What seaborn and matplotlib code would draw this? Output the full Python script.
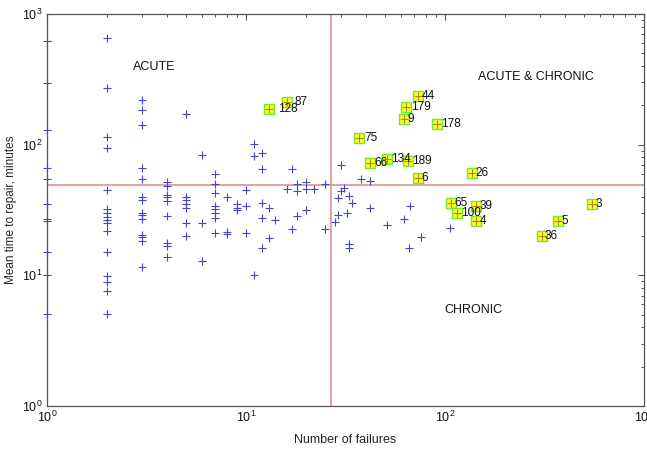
import matplotlib
matplotlib.use("Agg")
import matplotlib.pyplot as plt
import pandas as pd
import seaborn as sns

# Equipment items: number of failures vs mean time to repair (minutes)
failures = (
    [1] * 11 + [2] * 16 + [3] * 14 + [4] * 9 + [5] * 7 + [6] * 3 + [7] * 8
    + [8] * 3 + [9] * 3 + [10] * 3 + [11] * 3 + [12] * 5 + [13] * 2
    + [14, 16, 17, 17, 18, 18, 18, 20, 20, 20, 22, 25, 25,
       28, 29, 29, 30, 30, 31, 32, 33, 33, 33, 34, 38, 42, 42,
       51, 62, 66, 67, 76, 106]
)
mttr = (
    [619, 299, 130, 66, 55, 35, 27, 26, 15, 10, 5.1]
    + [657, 273, 114, 95, 45, 32, 30, 28, 26.5, 25, 22, 15, 9.8, 8.9, 7.6, 5.1]
    + [221, 185, 142, 66, 55, 40, 38, 30, 29, 27, 20.4, 19.6, 18.2, 11.6]
    + [52, 48, 41, 40, 37, 28.6, 17.6, 16.9, 13.7]
    + [172, 40, 37.4, 35, 33, 25, 20]
    + [83, 25, 12.8]
    + [60, 50, 43, 34, 32, 30, 27.7, 21]
    + [40, 21.4, 20.8]
    + [35, 33, 31.5]
    + [45, 34, 21]
    + [102, 82, 10.1]
    + [87, 65, 36, 27.4, 16.3]
    + [32.7, 19.3]
    + [26.6, 45.6, 65.5, 22.7, 50, 44, 28.6, 51.4, 45.8, 31.8, 45.8, 50, 22.7,
       25.8, 39, 29.1, 70.3, 43.9, 46.6, 30, 17.4, 16.3, 40.7, 35.7, 54.9, 52.4, 32.7,
       24.4, 27.1, 16.2, 34.1, 19.6, 23.0]
)

# Items flagged as critical, with their identifiers
crit_ids = [87, 128, 44, 179, 9, 178, 75, 66, 134, 189, 6, 26, 65, 39, 100, 4, 36, 5, 3]
crit_failures = [16, 13, 73, 64, 62, 91, 37, 42, 51, 65, 73, 136, 107, 143, 115, 143, 306, 371, 550]
crit_mttr = [211, 189, 234, 194, 157, 143, 112, 73, 78, 75, 56, 61, 36, 34, 30, 26, 20, 26, 35]

# Quadrant limits
failure_limit = 26.7
mttr_limit = 49.4

all_items = pd.DataFrame({"failures": failures, "mttr": mttr})
critical = pd.DataFrame({"id": crit_ids, "failures": crit_failures, "mttr": crit_mttr})

sns.set_theme(style="white")
plt.rcParams["font.family"] = ["Liberation Sans", "DejaVu Sans"]
plt.rcParams["mathtext.fontset"] = "custom"
plt.rcParams["mathtext.rm"] = "Liberation Sans"
plt.rcParams["mathtext.it"] = "Liberation Sans:italic"
plt.rcParams["mathtext.default"] = "regular"

fig = plt.figure(figsize=(6.47, 4.5), dpi=100)
ax = fig.add_axes([47 / 647, 44 / 450, 597 / 647, 392 / 450])

line_col = "#e39a9a"
ax.axvline(failure_limit, color=line_col, lw=1.3, zorder=1)
ax.axhline(mttr_limit, color=line_col, lw=1.3, zorder=1)

sns.scatterplot(data=all_items, x="failures", y="mttr", marker="+", color="#4646cc",
                s=36, linewidth=0.8, ax=ax, zorder=3, clip_on=False)
sns.scatterplot(data=critical, x="failures", y="mttr", marker="s", color="#ffff20",
                edgecolor="#77e633", s=55, linewidth=1.0, ax=ax, zorder=4)
sns.scatterplot(data=critical, x="failures", y="mttr", marker="+", color="#a08a18",
                s=36, linewidth=0.8, ax=ax, zorder=5)

for _, row in critical.iterrows():
    ax.annotate(str(int(row["id"])), (row["failures"] + 1, row["mttr"]),
                xytext=(2, 0), textcoords="offset points",
                ha="left", va="center", fontsize=8.5, color="#111111", zorder=6)

ax.set_xscale("log")
ax.set_yscale("log")
ax.set_xlim(1, 1000)
ax.set_ylim(1, 1000)

ax.text(2.71, 396, "ACUTE", ha="left", va="center", fontsize=9, color="#111111")
ax.text(146.5, 332, "ACUTE & CHRONIC", ha="left", va="center", fontsize=9, color="#111111")
ax.text(98.9, 5.44, "CHRONIC", ha="left", va="center", fontsize=9, color="#111111")

ax.set_xlabel("Number of failures", fontsize=9, labelpad=6)
ax.set_ylabel("Mean time to repair, minutes", fontsize=8.5, labelpad=4)

ax.tick_params(which="both", direction="in", top=True, right=True,
               color="#555555", labelsize=9, labelcolor="#111111")
ax.tick_params(which="major", length=4, width=0.8, pad=3)
ax.tick_params(which="minor", length=2.5, width=0.7)
for sp in ax.spines.values():
    sp.set_color("#555555")
    sp.set_linewidth(0.9)
    sp.set_visible(True)

fig.savefig("out.png", dpi=100, facecolor="white")
